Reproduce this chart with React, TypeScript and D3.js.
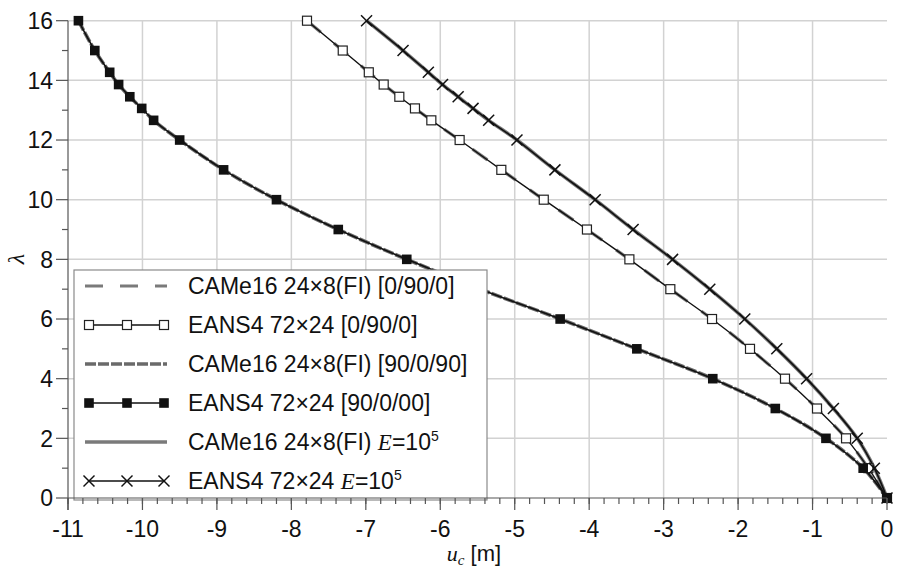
import React from "react";
import * as d3 from "d3";

const lambdas = [16, 15, 14.27, 13.86, 13.45, 13.06, 12.66, 12, 11, 10, 9, 8, 7, 6, 5, 4, 3, 2, 1, 0];

const eans4_0900 = [-7.79, -7.31, -6.96, -6.76, -6.55, -6.34, -6.12, -5.74, -5.18, -4.61, -4.03, -3.46, -2.91, -2.35, -1.84, -1.37, -0.94, -0.55, -0.25, 0];
const came16_0900 = [-7.79, -7.31, -6.96, -6.76, -6.55, -6.34, -6.12, -5.74, -5.18, -4.61, -4.03, -3.46, -2.91, -2.35, -1.84, -1.37, -0.94, -0.55, -0.25, 0];
const eans4_90090 = [-10.86, -10.64, -10.44, -10.32, -10.17, -10.01, -9.85, -9.5, -8.91, -8.2, -7.37, -6.45, -5.46, -4.39, -3.36, -2.34, -1.5, -0.82, -0.32, 0];
const came16_90090 = [-10.86, -10.64, -10.44, -10.32, -10.17, -10.01, -9.85, -9.5, -8.91, -8.2, -7.37, -6.45, -5.46, -4.39, -3.36, -2.34, -1.5, -0.82, -0.32, 0];
const eans4_E = [-6.99, -6.5, -6.16, -5.97, -5.76, -5.56, -5.35, -4.97, -4.46, -3.92, -3.41, -2.88, -2.38, -1.91, -1.48, -1.08, -0.72, -0.4, -0.17, 0];
const came16_E = [-6.99, -6.5, -6.16, -5.97, -5.76, -5.56, -5.35, -4.97, -4.46, -3.92, -3.41, -2.88, -2.38, -1.91, -1.48, -1.08, -0.72, -0.4, -0.17, 0];

const xTicks = [-11, -10, -9, -8, -7, -6, -5, -4, -3, -2, -1, 0];
const yTicks = [0, 2, 4, 6, 8, 10, 12, 14, 16];

const W = 897, H = 569;
const x = d3.scaleLinear().domain([-11, 0]).range([68, 887]);
const y = d3.scaleLinear().domain([0, 16]).range([498, 20.7]);

const SANS = "Liberation Sans, Arial, sans-serif";
const SERIF = "Liberation Serif, Times New Roman, serif";

type Marker = "none" | "open" | "filled" | "cross";

function MarkerShape({ cx, cy, kind }: { cx: number; cy: number; kind: Marker }) {
  if (kind === "open") return <rect x={cx - 4.5} y={cy - 4.5} width={9} height={9} fill="white" stroke="#222" strokeWidth={1.2} />;
  if (kind === "filled") return <rect x={cx - 4.8} y={cy - 4.8} width={9.6} height={9.6} fill="#111" />;
  if (kind === "cross") {
    const s = 5.5;
    return (
      <g stroke="#111" strokeWidth={1.5}>
        <line x1={cx - s} y1={cy - s} x2={cx + s} y2={cy + s} />
        <line x1={cx - s} y1={cy + s} x2={cx + s} y2={cy - s} />
      </g>
    );
  }
  return null;
}

const curve = d3.line<[number, number]>().x(d => x(d[0])).y(d => y(d[1])).curve(d3.curveCatmullRom.alpha(0.5));
const pts = (vals: number[]) => vals.map((v, i) => [v, lambdas[i]] as [number, number]);

const greyStyles = {
  dashLong: { stroke: "#7a7a7a", strokeWidth: 3.2, dash: "18,17" },
  dashShort: { stroke: "#6a6a6a", strokeWidth: 3.6, dash: "11,2" },
  solid: { stroke: "#7a7a7a", strokeWidth: 3.6, dash: undefined as string | undefined },
};

export default function App() {
  const xMinor: number[] = [];
  for (let v = -11; v <= 0.001; v += 0.2) xMinor.push(+v.toFixed(2));
  const yMinor = [1, 3, 5, 7, 9, 11, 13, 15];

  const legendRows: { label: React.ReactNode; grey?: keyof typeof greyStyles; marker?: Marker }[] = [
    { label: <>CAMe16 24×8(FI) [0/90/0]</>, grey: "dashLong" },
    { label: <>EANS4 72×24 [0/90/0]</>, marker: "open" },
    { label: <>CAMe16 24×8(FI) [90/0/90]</>, grey: "dashShort" },
    { label: <>EANS4 72×24 [90/0/00]</>, marker: "filled" },
    {
      label: (
        <>
          CAMe16 24×8(FI) <tspan fontFamily={SERIF} fontStyle="italic">E</tspan>=10<tspan fontSize={14} dy={-9}>5</tspan>
        </>
      ),
      grey: "solid",
    },
    {
      label: (
        <>
          EANS4 72×24 <tspan fontFamily={SERIF} fontStyle="italic">E</tspan>=10<tspan fontSize={14} dy={-9}>5</tspan>
        </>
      ),
      marker: "cross",
    },
  ];

  return (
    <svg width={W} height={H} style={{ position: "absolute", left: 0, top: 0, background: "white" }}>
      {/* grid */}
      <g stroke="#d2d2d2" strokeWidth={1.5}>
        {xTicks.filter(t => t > -11 && t < 0).map(t => (
          <line key={"gx" + t} x1={x(t)} x2={x(t)} y1={y(16)} y2={y(0)} />
        ))}
        {yTicks.filter(t => t > 0).map(t => (
          <line key={"gy" + t} x1={x(-11)} x2={x(0)} y1={y(t)} y2={y(t)} />
        ))}
      </g>

      {/* CAMe16 grey lines */}
      <path d={curve(pts(came16_0900)) || ""} fill="none" stroke={greyStyles.dashLong.stroke} strokeWidth={greyStyles.dashLong.strokeWidth} strokeDasharray={greyStyles.dashLong.dash} />
      <path d={curve(pts(came16_90090)) || ""} fill="none" stroke={greyStyles.dashShort.stroke} strokeWidth={greyStyles.dashShort.strokeWidth} strokeDasharray={greyStyles.dashShort.dash} />
      <path d={curve(pts(came16_E)) || ""} fill="none" stroke={greyStyles.solid.stroke} strokeWidth={greyStyles.solid.strokeWidth} />

      {/* EANS4 black lines */}
      <path d={curve(pts(eans4_0900)) || ""} fill="none" stroke="#111" strokeWidth={1.4} />
      <path d={curve(pts(eans4_90090)) || ""} fill="none" stroke="#111" strokeWidth={1.6} />
      <path d={curve(pts(eans4_E)) || ""} fill="none" stroke="#111" strokeWidth={1.6} />

      {pts(eans4_0900).map((d, i) => <MarkerShape key={"o" + i} cx={x(d[0])} cy={y(d[1])} kind="open" />)}
      {pts(eans4_E).map((d, i) => <MarkerShape key={"c" + i} cx={x(d[0])} cy={y(d[1])} kind="cross" />)}
      {pts(eans4_90090).map((d, i) => <MarkerShape key={"f" + i} cx={x(d[0])} cy={y(d[1])} kind="filled" />)}

      {/* legend */}
      <g>
        <rect x={74} y={270} width={413} height={230} fill="white" stroke="#8a8a8a" strokeWidth={1.2} />
        {legendRows.map((r, i) => {
          const cy = 286 + i * 39;
          return (
            <g key={"lg" + i}>
              {r.grey && (
                <line x1={85} x2={167} y1={cy} y2={cy} stroke={greyStyles[r.grey].stroke} strokeWidth={greyStyles[r.grey].strokeWidth} strokeDasharray={greyStyles[r.grey].dash} />
              )}
              {r.marker && (
                <>
                  <line x1={88} x2={165} y1={cy} y2={cy} stroke="#111" strokeWidth={1.4} />
                  {[89, 127, 164].map(mx => <MarkerShape key={mx} cx={mx} cy={cy} kind={r.marker as Marker} />)}
                </>
              )}
              <text x={188} y={cy} dy="0.36em" fontFamily={SANS} fontSize={23} fill="#111">{r.label}</text>
            </g>
          );
        })}
      </g>

      {/* axes */}
      <g stroke="#555" strokeWidth={1.2}>
        <line x1={x(-11)} x2={x(0)} y1={y(0)} y2={y(0)} />
        <line x1={x(-11)} x2={x(-11)} y1={y(16)} y2={y(0) + 12} />
        {xMinor.map(v => <line key={"xm" + v} x1={x(v)} x2={x(v)} y1={y(0)} y2={y(0) + 6} />)}
        {xTicks.map(t => <line key={"xt" + t} x1={x(t)} x2={x(t)} y1={y(0)} y2={y(0) + 12} />)}
        {yMinor.map(v => <line key={"ym" + v} x1={x(-11) - 6} x2={x(-11)} y1={y(v)} y2={y(v)} />)}
        {yTicks.map(t => <line key={"yt" + t} x1={x(-11) - 12} x2={x(-11)} y1={y(t)} y2={y(t)} />)}
      </g>
      <g fontFamily={SANS} fontSize={23} fill="#111">
        {xTicks.map(t => (
          <text key={"xl" + t} x={x(t)} y={529} dy="0.36em" textAnchor="middle">{t}</text>
        ))}
        {yTicks.map(t => (
          <text key={"yl" + t} x={53} y={y(t)} dy="0.36em" textAnchor="end">{t}</text>
        ))}
      </g>
      <text x={474} y={553} dy="0.36em" textAnchor="middle" fontFamily={SANS} fontSize={22} fill="#111">
        <tspan fontFamily={SERIF} fontStyle="italic">u</tspan>
        <tspan fontFamily={SERIF} fontStyle="italic" fontSize={15} dy={4}>c</tspan>
        <tspan dy={-4}> [m]</tspan>
      </text>
      <text transform="translate(15,259) rotate(-90)" textAnchor="middle" dy="0.36em" fontFamily={SERIF} fontStyle="italic" fontSize={24} fill="#111">λ</text>
    </svg>
  );
}
